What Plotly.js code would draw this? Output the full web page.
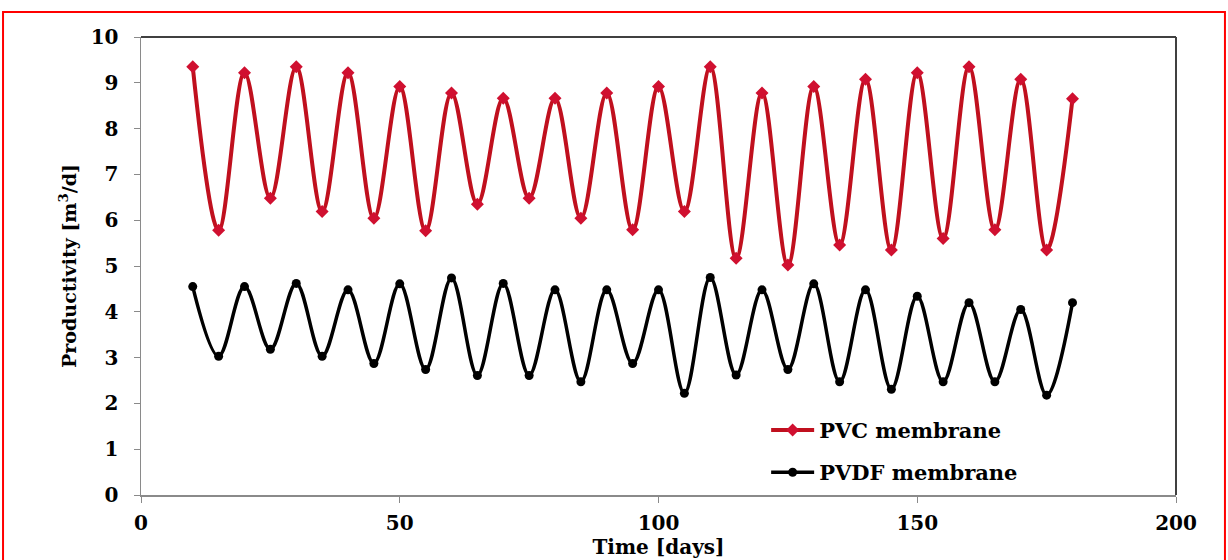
<!DOCTYPE html>
<html>
<head>
<meta charset="utf-8">
<script src="https://cdn.plot.ly/plotly-3.0.1.min.js"></script>
<style>html,body{margin:0;padding:0;background:#fff;}#chart{width:1228px;height:560px;}</style>
</head>
<body>
<div id="chart"></div>
<script>
const days = [10,15,20,25,30,35,40,45,50,55,60,65,70,75,80,85,90,95,100,105,110,115,120,125,130,135,140,145,150,155,160,165,170,175,180];
const pvc = [9.35,5.78,9.22,6.48,9.35,6.19,9.22,6.04,8.92,5.77,8.78,6.35,8.66,6.48,8.66,6.04,8.78,5.79,8.92,6.19,9.35,5.17,8.78,5.02,8.92,5.46,9.08,5.35,9.22,5.6,9.35,5.79,9.08,5.35,8.65];
const pvdf = [4.55,3.03,4.55,3.18,4.62,3.03,4.48,2.87,4.61,2.74,4.74,2.61,4.62,2.61,4.48,2.47,4.48,2.87,4.48,2.22,4.75,2.62,4.48,2.74,4.61,2.47,4.48,2.31,4.34,2.47,4.2,2.47,4.05,2.18,4.2];
const seriesNames = ['PVC membrane','PVDF membrane'];
const xTicks = [0,50,100,150,200];
const yTicks = [0,1,2,3,4,5,6,7,8,9,10];

const serif = 'DejaVu Serif, serif';

const traces = [
  {x: days, y: pvc, name: '<b>' + seriesNames[0] + '</b>', type: 'scatter', mode: 'lines+markers', legendgroup: 'a',
   line: {color: '#C0101E', width: 4, shape: 'spline', smoothing: 1},
   marker: {symbol: 'diamond', size: 10, color: '#D01030'}},
  {x: days, y: pvdf, name: '<b>' + seriesNames[1] + '</b>', type: 'scatter', mode: 'lines+markers', legendgroup: 'b',
   line: {color: '#000000', width: 3.5, shape: 'spline', smoothing: 1},
   marker: {symbol: 'circle', size: 9, color: '#000000'}}
];

const layout = {
  width: 1228, height: 560,
  margin: {l: 141, r: 52, t: 37, b: 65},
  paper_bgcolor: '#ffffff', plot_bgcolor: '#ffffff',
  showlegend: true,
  legend: {x: 0.604, y: 0.186, xanchor: 'left', yanchor: 'top', bgcolor: 'rgba(0,0,0,0)',
           font: {family: serif, size: 21, color: '#000'}, tracegroupgap: 12, traceorder: 'grouped', itemwidth: 43},
  xaxis: {range: [0, 200], tickvals: xTicks, showgrid: false, zeroline: false,
          showline: true, linecolor: '#8a8a8a', linewidth: 1.5,
          ticks: 'outside', ticklen: 6, tickcolor: '#8a8a8a', ticklabelstandoff: 3,
          tickfont: {family: serif, size: 20, color: '#000', weight: 'bold'},
          title: {text: '<b>Time [days]</b>', font: {family: serif, size: 20, color: '#000'}, standoff: 3}},
  yaxis: {range: [0, 10], tickvals: yTicks, showgrid: false, zeroline: false,
          showline: true, linecolor: '#8a8a8a', linewidth: 1.5,
          ticks: 'outside', ticklen: 6, tickcolor: '#8a8a8a', ticklabelstandoff: 11,
          tickfont: {family: serif, size: 20, color: '#000', weight: 'bold'},
          title: {text: '<b>Productivity [m<sup>3</sup>/d]</b>', font: {family: serif, size: 19, color: '#000'}, standoff: 9}},
  shapes: [
    {type: 'line', xref: 'paper', yref: 'paper', x0: 0, x1: 1, y0: 1, y1: 1, line: {color: '#404040', width: 2}},
    {type: 'line', xref: 'paper', yref: 'paper', x0: 1, x1: 1, y0: 0, y1: 1, line: {color: '#404040', width: 2}},
    {type: 'rect', xref: 'paper', yref: 'paper', x0: -0.1333, x1: 1.0473, y0: -0.25, y1: 1.0546,
     line: {color: '#FF0000', width: 2}, layer: 'above'}
  ]
};

Plotly.newPlot('chart', traces, layout, {displayModeBar: false, staticPlot: true});
</script>
</body>
</html>
